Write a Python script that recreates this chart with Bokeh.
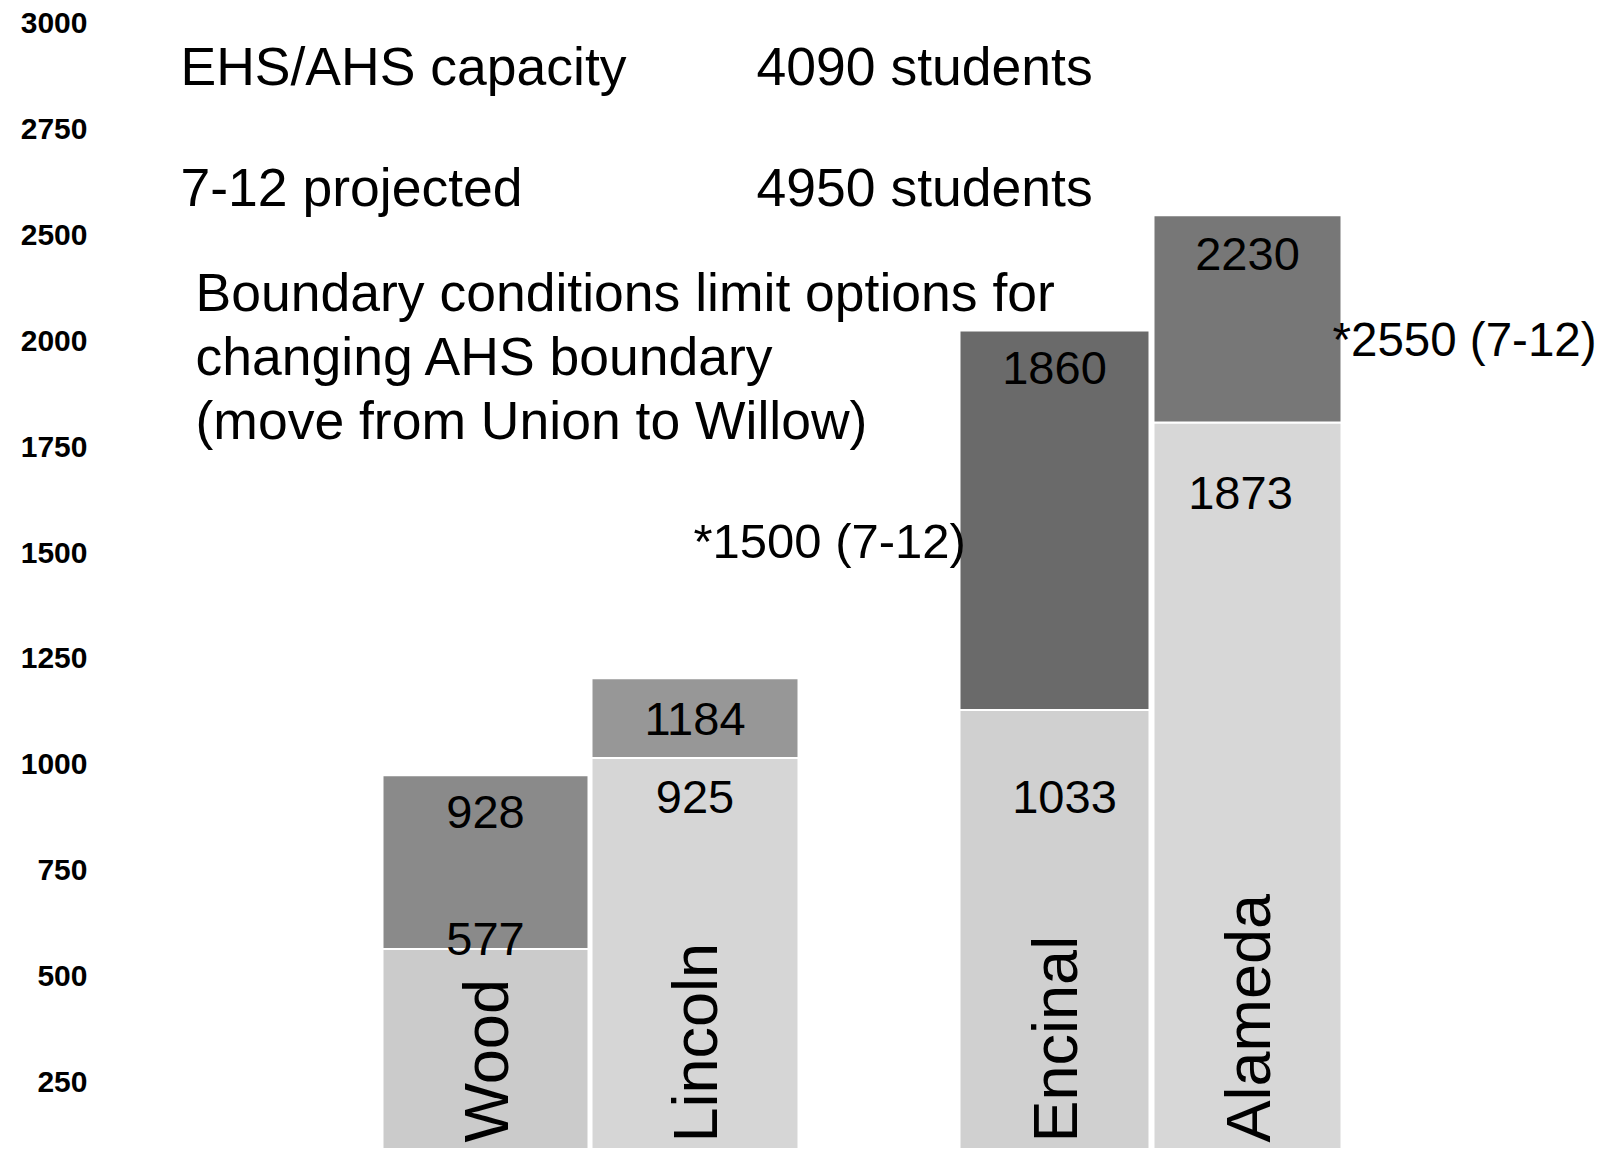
import math
from bokeh.plotting import figure
from bokeh.models import Range1d, FixedTicker, ColumnDataSource, Label
from bokeh.embed import file_html
from bokeh.resources import INLINE
from bokeh.core.properties import value

# ---------------- data ----------------
categories = ["Wood", "Lincoln", "Encinal", "Alameda"]
lower_values = [564, 1015, 1128, 1807]      # drawn height of light segment
total_values = [974, 1203, 2024, 2296]      # drawn height of full bar
lower_labels = ["577", "925", "1033", "1873"]
upper_labels = ["928", "1184", "1860", "2230"]
tick_values = [250, 500, 750, 1000, 1250, 1500, 1750, 2000, 2250, 2500, 2750]
tick_labels = ["250", "500", "750", "1000", "1250", "1500", "1750", "2000",
               "2500", "2750", "3000"]
header_names = ["EHS/AHS capacity", "7-12 projected"]
header_counts = ["4090 students", "4950 students"]
note_lines = ["Boundary conditions limit options for",
              "changing AHS boundary",
              "(move from Union to Willow)"]
annot_encinal = "*1500  (7-12)"
annot_alameda = "*2550 (7-12)"

# ---------------- layout / style ----------------
W, H = 1596, 1148
LEFT = 92
PX_PER_UNIT = 0.4236
Y_END = 2750 + 22.5 / PX_PER_UNIT
Y_START = Y_END - H / PX_PER_UNIT
FONT = "Liberation Sans"

bar_left = [382, 591, 959, 1153]
bar_right = [588, 798, 1149, 1341]
lower_colors = ["#cbcbcb", "#d6d6d6", "#d0d0d0", "#d7d7d7"]
upper_colors = ["#8a8a8a", "#979797", "#6a6a6a", "#777777"]
upper_label_offset = [37, 41, 37, 39]
lower_label_offset = [-10, 39, 87, 71]
lower_label_dx = [0, 0, 10, -7]


def yv(img_y):
    """convert a page pixel row into a value on the y scale"""
    return Y_END - img_y / PX_PER_UNIT


centers = [(a + b) / 2 for a, b in zip(bar_left, bar_right)]

p = figure(width=W, height=H, output_backend="svg", toolbar_location=None,
           x_range=Range1d(LEFT, W), y_range=Range1d(Y_START, Y_END),
           x_axis_location=None, min_border_left=LEFT, min_border_right=0,
           min_border_top=0, min_border_bottom=0)
p.outline_line_color = None
p.xgrid.grid_line_color = None
p.ygrid.grid_line_color = None
p.background_fill_color = "white"
p.border_fill_color = "white"

ax = p.yaxis[0]
ax.ticker = FixedTicker(ticks=tick_values)
ax.major_label_overrides = {t: l for t, l in zip(tick_values, tick_labels)}
ax.axis_line_color = None
ax.major_tick_line_color = None
ax.minor_tick_line_color = None
ax.major_tick_out = 0
ax.major_tick_in = 0
ax.major_label_standoff = 5
ax.major_label_text_font = FONT
ax.major_label_text_font_style = "bold"
ax.major_label_text_font_size = "30px"
ax.major_label_text_color = "black"

src = ColumnDataSource(dict(
    left=bar_left, right=bar_right, x=centers, cat=categories,
    lower=lower_values, total=total_values,
    lower_lab=lower_labels, upper_lab=upper_labels,
    lower_col=lower_colors, upper_col=upper_colors,
    lo_off=lower_label_offset, up_off=upper_label_offset,
    lo_dx=lower_label_dx,
    base=[0] * len(categories),
    cat_y=[yv(1142)] * len(categories),
))

p.quad(left="left", right="right", bottom="base", top="lower", source=src,
       fill_color="lower_col", line_color="white", line_width=2)
p.quad(left="left", right="right", bottom="lower", top="total", source=src,
       fill_color="upper_col", line_color="white", line_width=2)

p.text(x="x", y="total", text="upper_lab", y_offset="up_off", source=src,
       text_align="center", text_baseline="middle",
       text_font=value(FONT), text_font_size="47px", text_color="black")
p.text(x="x", y="lower", text="lower_lab", x_offset="lo_dx", y_offset="lo_off",
       source=src, text_align="center", text_baseline="middle",
       text_font=value(FONT), text_font_size="47px", text_color="black")
p.text(x="x", y="cat_y", text="cat", angle=math.pi / 2,
       source=src, text_align="left", text_baseline="middle",
       text_font=value(FONT), text_font_size="63px", text_color="black")


def add_label(txt, x_img, mid_img, size="53.5px"):
    p.add_layout(Label(x=x_img, y=yv(mid_img), text=txt, text_font=FONT,
                       text_font_size=size, text_color="black",
                       text_align="left", text_baseline="middle"))


add_label(header_names[0], 180, 66)
add_label(header_counts[0], 756, 66)
add_label(header_names[1], 180, 187)
add_label(header_counts[1], 756, 187)
for i, line in enumerate(note_lines):
    add_label(line, 195, 292 + 64 * i)
add_label(annot_encinal, 693, 540, "49px")
add_label(annot_alameda, 1332, 339, "47.5px")

open("out.html", "w").write(file_html(p, INLINE))
